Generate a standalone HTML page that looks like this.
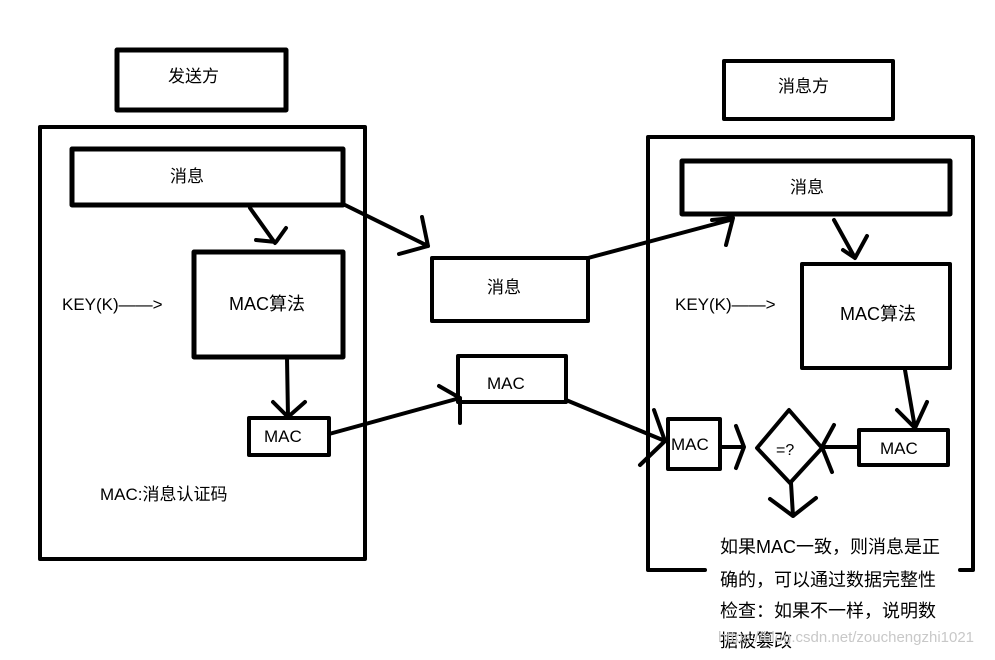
<!DOCTYPE html>
<html><head><meta charset="utf-8"><style>
html,body{margin:0;padding:0;background:#fff;}
svg text{font-family:"Liberation Sans","Noto Sans CJK SC",sans-serif;fill:#000;}
</style></head><body>
<svg width="995" height="655" viewBox="0 0 995 655" xmlns="http://www.w3.org/2000/svg">
<g fill="none" stroke="#000" stroke-width="4" stroke-linecap="round" stroke-linejoin="round">
<!-- left -->
<rect x="117" y="50" width="169" height="60" stroke-width="5"/>
<rect x="40" y="127" width="325" height="432"/>
<rect x="72" y="149" width="271" height="56" stroke-width="5"/>
<rect x="194" y="252" width="149" height="105" stroke-width="5"/>
<rect x="249" y="418" width="80" height="37" stroke-width="4"/>
<path d="M250 208 L275 243 M256 240 L276 242 L286 228"/>
<path d="M287 358 L288 417 M273 402 L288 417 L305 402"/>
<!-- middle -->
<rect x="432" y="258" width="156" height="63"/>
<rect x="458" y="356" width="108" height="46"/>
<path d="M343 204 L428 246 M422 217 L428 246 L399 254"/>
<path d="M329 434 L460 398 M439 386 L460 398 M460 398 L460 423"/>
<path d="M588 258 L730 220 M712 220 L733 218 L726 245"/>
<path d="M566 400 L665 441 M654 410 L665 441 M640 465 L665 441"/>
<!-- right -->
<rect x="724" y="61" width="169" height="58"/>
<path d="M705 570 L648 570 L648 137 L973 137 L973 570 L960 570" stroke-width="4"/>
<rect x="682" y="161" width="268" height="53" stroke-width="5"/>
<rect x="802" y="264" width="148" height="104" stroke-width="4"/>
<rect x="668" y="419" width="52" height="50" stroke-width="4"/>
<rect x="859" y="430" width="89" height="35" stroke-width="4"/>
<path d="M789 410 L822 448 L790 483 L757 448 Z"/>
<path d="M720 447 L744 447 M736 426 L744 447 L736 468"/>
<path d="M859 447 L822 447 M834 425 L822 447 L832 472"/>
<path d="M791 483 L793 516 M770 499 L793 516 L816 498"/>
<path d="M834 220 L855 258 M843 250 L855 258 L867 236"/>
<path d="M905 370 L915 428 M897 410 L915 428 L927 402"/>
</g>
<text x="168" y="82" font-size="17">发送方</text>
<text x="170" y="182" font-size="17">消息</text>
<text x="62" y="310" font-size="17">KEY(K)——&gt;</text>
<text x="229" y="310" font-size="18">MAC算法</text>
<text x="264" y="442" font-size="17">MAC</text>
<text x="100" y="500" font-size="17">MAC:消息认证码</text>
<text x="487" y="293" font-size="17">消息</text>
<text x="487" y="389" font-size="17">MAC</text>
<text x="778" y="92" font-size="17">消息方</text>
<text x="790" y="193" font-size="17">消息</text>
<text x="675" y="310" font-size="17">KEY(K)——&gt;</text>
<text x="840" y="320" font-size="18">MAC算法</text>
<text x="671" y="450" font-size="17">MAC</text>
<text x="880" y="454" font-size="17">MAC</text>
<text x="776" y="455" font-size="16">=?</text>
<text x="720" y="553" font-size="18">如果MAC一致，则消息是正</text>
<text x="720" y="586" font-size="18">确的，可以通过数据完整性</text>
<text x="720" y="617" font-size="18">检查：如果不一样，说明数</text>
<text x="720" y="647" font-size="18">据被篡改</text>
<text x="718" y="642" font-size="15" style="fill:#c8c8c8">https://blog.csdn.net/zouchengzhi1021</text>
</svg>
</body></html>
